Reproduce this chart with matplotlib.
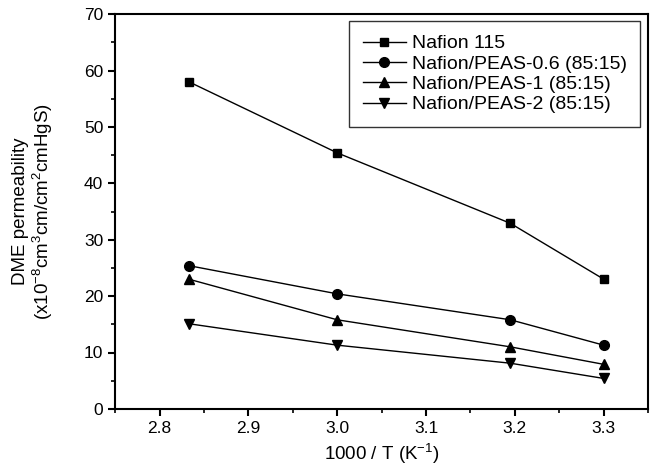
import matplotlib.pyplot as plt
from matplotlib.ticker import MultipleLocator

plt.rcParams['font.family'] = ['Liberation Sans', 'DejaVu Sans']
plt.rcParams['mathtext.fontset'] = 'custom'
plt.rcParams['mathtext.rm'] = 'Liberation Sans'

# inverse temperature, 1000/T
inv_t = [2.833, 3.000, 3.195, 3.300]

labels = ['Nafion 115', 'Nafion/PEAS-0.6 (85:15)',
          'Nafion/PEAS-1 (85:15)', 'Nafion/PEAS-2 (85:15)']
nafion115 = [58.0, 45.4, 32.9, 23.0]
peas06 = [25.4, 20.4, 15.8, 11.3]
peas1 = [23.0, 15.8, 11.0, 7.9]
peas2 = [15.1, 11.3, 8.1, 5.4]

series = [nafion115, peas06, peas1, peas2]
markers = ['s', 'o', '^', 'v']
msizes = [6, 7, 7, 7]

fig = plt.figure(figsize=(6.54, 4.70), dpi=100)
ax = fig.add_axes([0.176, 0.130, 0.815, 0.840])

for vals, lab, m, ms in zip(series, labels, markers, msizes):
    ax.plot(inv_t, vals, color='black', lw=1, marker=m, ms=ms, label=lab)

ax.set_xlim(2.75, 3.35)
ax.set_ylim(0, 70)
ax.xaxis.set_major_locator(MultipleLocator(0.1))
ax.xaxis.set_minor_locator(MultipleLocator(0.05))
ax.yaxis.set_major_locator(MultipleLocator(10))
ax.yaxis.set_minor_locator(MultipleLocator(5))
ax.xaxis.set_major_formatter(plt.FormatStrFormatter('%.1f'))

ax.tick_params(which='major', direction='out', length=5, width=1.5, labelsize=12.5)
ax.tick_params(which='minor', direction='out', length=3, width=1.2)
for s in ax.spines.values():
    s.set_linewidth(1.5)

ax.set_xlabel('1000 / T (K$^{-1}$)', fontsize=13.5)
ax.set_ylabel('DME permeability\n(x10$^{-8}$cm$^3$cm/cm$^2$cmHgS)', fontsize=13.5,
              linespacing=1.05)
ax.yaxis.set_label_coords(-0.113, 0.5)

leg = ax.legend(loc='upper right', fontsize=14, frameon=True, fancybox=False,
                edgecolor='black', handlelength=2.2, handletextpad=0.3,
                labelspacing=0.14, borderpad=0.7, borderaxespad=0,
                bbox_to_anchor=(0.985, 0.982))
leg.get_frame().set_linewidth(1.0)

fig.savefig('out.png', dpi=100)
